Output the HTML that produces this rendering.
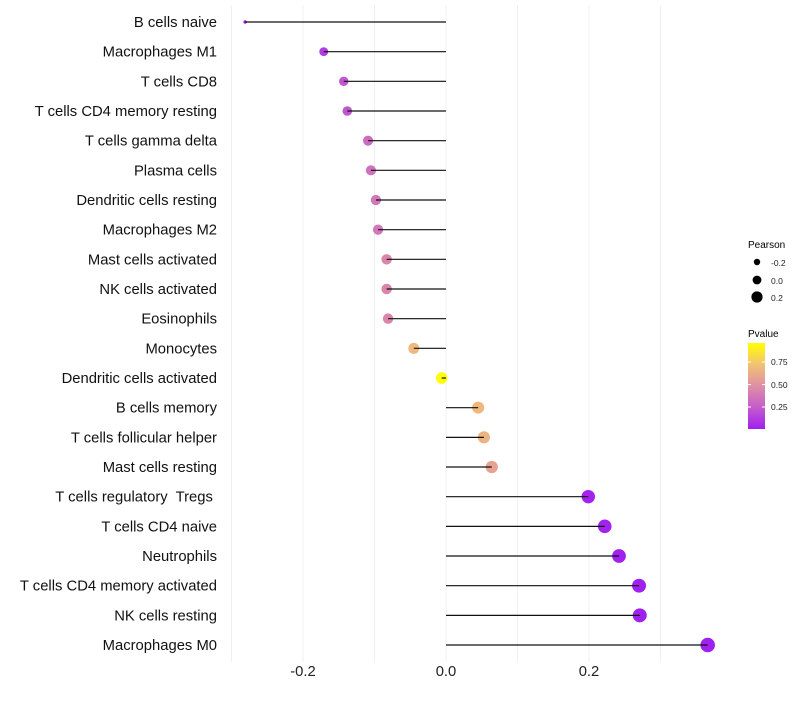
<!DOCTYPE html>
<html><head><meta charset="utf-8"><style>
body{margin:0;background:#fff;font-family:"Liberation Sans",Arial,sans-serif}
svg text{font-family:"Liberation Sans",Arial,sans-serif}
</style></head><body>
<svg id="chart" width="800" height="700" xmlns="http://www.w3.org/2000/svg">
<defs><linearGradient id="pg" x1="0" y1="1" x2="0" y2="0">
<stop offset="0" stop-color="#a020f0"/><stop offset="0.25" stop-color="#c45ccc"/><stop offset="0.5" stop-color="#de8fa4"/><stop offset="0.75" stop-color="#f2c275"/><stop offset="1" stop-color="#ffff00"/></linearGradient></defs>
<g id="grid"></g><g id="dots"></g><g id="marks"></g><g id="ylabels"></g><g id="xlabels"></g>
<g>
<text x="748" y="248" font-size="10" fill="#000">Pearson</text>
<circle cx="757" cy="262" r="3.2" fill="#000"/><text x="771" y="266" font-size="8.5" fill="#222">-0.2</text>
<circle cx="757" cy="280" r="4.4" fill="#000"/><text x="771" y="284" font-size="8.5" fill="#222">0.0</text>
<circle cx="757" cy="297" r="5.6" fill="#000"/><text x="771" y="301" font-size="8.5" fill="#222">0.2</text>
</g>
<g>
<text x="748" y="337" font-size="10" fill="#000">Pvalue</text>
<rect x="748" y="343" width="17" height="86" fill="url(#pg)"/>
<g stroke="#fff" stroke-width="1"><line x1="748" x2="751" y1="362" y2="362"/><line x1="762" x2="765" y1="362" y2="362"/><line x1="748" x2="751" y1="384.6" y2="384.6"/><line x1="762" x2="765" y1="384.6" y2="384.6"/><line x1="748" x2="751" y1="407" y2="407"/><line x1="762" x2="765" y1="407" y2="407"/></g>
<text x="771" y="365" font-size="8.5" fill="#222">0.75</text>
<text x="771" y="388" font-size="8.5" fill="#222">0.50</text>
<text x="771" y="410" font-size="8.5" fill="#222">0.25</text>
</g>
</svg>
<script>
const categories=["B cells naive","Macrophages M1","T cells CD8","T cells CD4 memory resting","T cells gamma delta","Plasma cells","Dendritic cells resting","Macrophages M2","Mast cells activated","NK cells activated","Eosinophils","Monocytes","Dendritic cells activated","B cells memory","T cells follicular helper","Mast cells resting","T cells regulatory\u00a0 Tregs\u00a0","T cells CD4 naive","Neutrophils","T cells CD4 memory activated","NK cells resting","Macrophages M0"];
const pearson=[-0.281,-0.171,-0.143,-0.138,-0.109,-0.105,-0.098,-0.095,-0.083,-0.083,-0.081,-0.045,-0.006,0.045,0.053,0.064,0.199,0.222,0.242,0.270,0.271,0.366];
const pvalue=[0.01,0.15,0.25,0.25,0.35,0.37,0.40,0.40,0.47,0.47,0.47,0.70,0.98,0.70,0.68,0.60,0.05,0.05,0.02,0.01,0.01,0.01];
const xTicks=[-0.2,0.0,0.2];
const xGrid=[-0.3,-0.2,-0.1,0,0.1,0.2,0.3];
const NS="http://www.w3.org/2000/svg";
const x=v=>446+v*715;
const y=i=>22+i*29.667;
const stops=[[0,[160,32,240]],[0.25,[196,92,204]],[0.5,[222,143,164]],[0.75,[242,194,117]],[1,[255,255,0]]];
function col(p){let t=Math.max(0,Math.min(1,(p-0.04)/0.94));for(let k=1;k<stops.length;k++){if(t<=stops[k][0]){const a=stops[k-1],b=stops[k],f=(t-a[0])/(b[0]-a[0]);return 'rgb('+a[1].map((c,j)=>Math.round(c+(b[1][j]-c)*f)).join(',')+')';}}return 'rgb(255,255,0)';}
function rad(v){const t=Math.max(0,(v+0.281)/(0.366+0.281));return Math.max(1.7,7.3*Math.pow(t,0.28));}
function mk(tag,attrs,parent){const e=document.createElementNS(NS,tag);for(const k in attrs)e.setAttribute(k,attrs[k]);parent.appendChild(e);return e;}
const grid=document.getElementById('grid'),dots=document.getElementById('dots'),marks=document.getElementById('marks'),yl=document.getElementById('ylabels'),xl=document.getElementById('xlabels');
xGrid.forEach(v=>{const l=mk('line',{x1:x(v),x2:x(v),y1:5,y2:662,stroke:'#f0f0f0','stroke-width':1},grid);

});
categories.forEach((c,i)=>{
const d=mk('circle',{cx:x(pearson[i]),cy:y(i),r:rad(pearson[i]),fill:col(pvalue[i])},dots);


const s=mk('line',{x1:x(0),x2:x(pearson[i]),y1:y(i),y2:y(i),stroke:'#111','stroke-width':1.2},marks);


const t=mk('text',{x:217,y:y(i)+5,'text-anchor':'end','font-size':14.8,fill:'#111'},yl);t.textContent=c;


});
xTicks.forEach(v=>{const t=mk('text',{x:x(v),y:676,'text-anchor':'middle','font-size':14.8,fill:'#222'},xl);t.textContent=v.toFixed(1);

});
</script>
</body></html>
